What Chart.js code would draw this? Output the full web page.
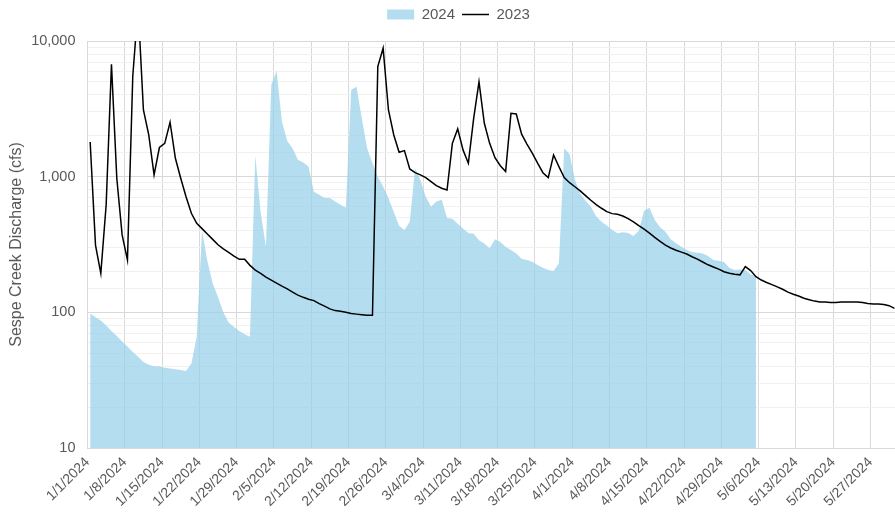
<!DOCTYPE html>
<html lang="en">
<head>
    <meta charset="UTF-8">
    <title>Sespe Creek Discharge</title>
    <script src="https://cdn.jsdelivr.net/npm/chart.js"></script>
    <style>
        body { margin: 0; background: #fff; }
        .chart-container { position: relative; width: 895px; height: 514px; }
    </style>
</head>
<body>
    <div class="chart-container">
        <canvas id="flowChart"></canvas>
    </div>
    <script>
        // weekly date labels on the x axis (one per 7 days from 1/1/2024)
        const weekLabels = ['1/1/2024', '1/8/2024', '1/15/2024', '1/22/2024', '1/29/2024', '2/5/2024',
            '2/12/2024', '2/19/2024', '2/26/2024', '3/4/2024', '3/11/2024', '3/18/2024', '3/25/2024',
            '4/1/2024', '4/8/2024', '4/15/2024', '4/22/2024', '4/29/2024', '5/6/2024', '5/13/2024',
            '5/20/2024', '5/27/2024'];

        // daily discharge (cfs), first value = Jan 1
        const flow2024 = [98, 92, 87, 80, 73, 67, 61, 56, 51, 47,
            43, 41, 40, 40, 39, 38.5, 38, 37.5, 37, 42,
            66, 400, 240, 164, 130, 100, 84, 78, 73, 69,
            66, 1440, 550, 305, 4750, 6000, 2550, 1830, 1620, 1330,
            1270, 1190, 775, 735, 695, 695, 655, 620, 590, 4350,
            4620, 2690, 1620, 1260, 1000, 845, 695, 550, 435, 405,
            466, 1150, 945, 710, 600, 655, 675, 495, 490, 450,
            415, 385, 380, 340, 322, 297, 345, 330, 305, 288,
            272, 248, 243, 236, 223, 213, 205, 202, 230, 1620,
            1470, 950, 750, 665, 600, 510, 466, 437, 405, 383,
            390, 385, 365, 400, 560, 590, 480, 424, 393, 345,
            323, 305, 288, 278, 275, 272, 260, 243, 240, 235,
            213, 205, 207, 205, 190, 185];

        const flow2023 = [1800, 313, 194, 618, 6740, 973, 372, 243, 5500, 18000,
            3100, 2030, 1030, 1640, 1760, 2520, 1366, 973, 712, 537,
            453, 414, 378, 345, 315, 294, 277, 260, 246, 246,
            222, 205, 194, 182, 173, 164, 156, 149, 141, 134,
            129, 125, 122, 116, 111, 106, 103, 102, 100, 98,
            97, 96, 95, 95, 6470, 8850, 3100, 2030, 1514, 1556,
            1140, 1070, 1030, 984, 918, 858, 821, 798, 1760, 2250,
            1575, 1257, 2690, 5000, 2476, 1760, 1380, 1205, 1090, 2930,
            2900, 2055, 1740, 1490, 1257, 1070, 984, 1445, 1186, 984,
            903, 843, 785, 725, 670, 622, 585, 552, 534, 528,
            513, 490, 464, 435, 410, 383, 357, 334, 313, 298,
            287, 278, 269, 257, 247, 235, 224, 216, 208, 199,
            194, 191, 189, 217, 203, 183, 173, 166, 160, 154,
            148, 141, 136, 132, 127, 124, 121, 119, 119, 118,
            118, 119, 119, 119, 119, 118, 116, 115, 115, 114,
            112, 107];

        // each daily value sits in the middle of its day
        const toPoints = values => values.map((v, i) => ({ x: i + 0.5, y: v }));

        const isDecade = v => Math.abs(Math.log10(v) - Math.round(Math.log10(v))) < 1e-9;

        // give the legend more room below and nudge it to the right
        const legendSpacing = {
            id: 'legendSpacing',
            beforeInit(chart) {
                const fit = chart.legend.fit;
                chart.legend.fit = function () {
                    fit.call(this);
                    this.height += 9;
                };
            },
            afterLayout(chart) {
                chart.legend.left += 11;
                chart.legend.right += 11;
            }
        };

        Chart.defaults.font.family = "'Liberation Sans', Arial, sans-serif";
        Chart.defaults.color = '#595959';

        const ctx = document.getElementById('flowChart').getContext('2d');
        new Chart(ctx, {
            type: 'line',
            data: {
                datasets: [{
                    label: '2024',
                    data: toPoints(flow2024),
                    backgroundColor: 'rgba(148, 208, 234, 0.7)',
                    borderColor: 'rgba(148, 208, 234, 0.7)',
                    borderWidth: 0,
                    fill: 'start',
                    pointRadius: 0,
                    pointBorderWidth: 0,
                    pointStyle: 'rect',
                    order: 2
                }, {
                    label: '2023',
                    data: toPoints(flow2023),
                    borderColor: '#000',
                    borderWidth: 1.5,
                    fill: false,
                    pointRadius: 0,
                    pointBorderWidth: 1.5,
                    pointStyle: 'line',
                    order: 1
                }]
            },
            options: {
                responsive: true,
                maintainAspectRatio: false,
                animation: false,
                layout: { padding: 0 },
                plugins: {
                    tooltip: { enabled: false },
                    legend: {
                        position: 'top',
                        labels: {
                            usePointStyle: true,
                            pointStyleWidth: 27,
                            boxHeight: 10,
                            padding: 7,
                            font: { size: 15 },
                            sort: (a, b) => a.datasetIndex - b.datasetIndex
                        }
                    }
                },
                scales: {
                    x: {
                        type: 'linear',
                        min: 0,
                        max: 151.6,
                        afterFit: scale => { scale.height = 66; },
                        grid: { color: '#d9d9d9', drawTicks: false },
                        border: { color: '#d9d9d9' },
                        ticks: {
                            stepSize: 7,
                            includeBounds: false,
                            autoSkip: false,
                            minRotation: 45,
                            maxRotation: 45,
                            padding: 6,
                            font: { size: 14 },
                            callback: value => weekLabels[Math.round(value / 7)] || ''
                        }
                    },
                    y: {
                        type: 'logarithmic',
                        min: 10,
                        max: 10000,
                        afterFit: scale => { scale.width = 87.5; },
                        grid: {
                            drawTicks: false,
                            color: c => (c.tick && isDecade(c.tick.value)) ? '#d9d9d9' : '#f0f0f0'
                        },
                        border: { color: '#d9d9d9' },
                        ticks: {
                            autoSkip: false,
                            padding: 12,
                            font: { size: 14.5 },
                            callback: value => isDecade(value) ? value.toLocaleString('en-US') : ''
                        },
                        title: {
                            display: true,
                            text: 'Sespe Creek Discharge (cfs)',
                            font: { size: 16 },
                            padding: { top: 7, bottom: 0 }
                        }
                    }
                }
            },
            plugins: [legendSpacing]
        });
    </script>
</body>
</html>
